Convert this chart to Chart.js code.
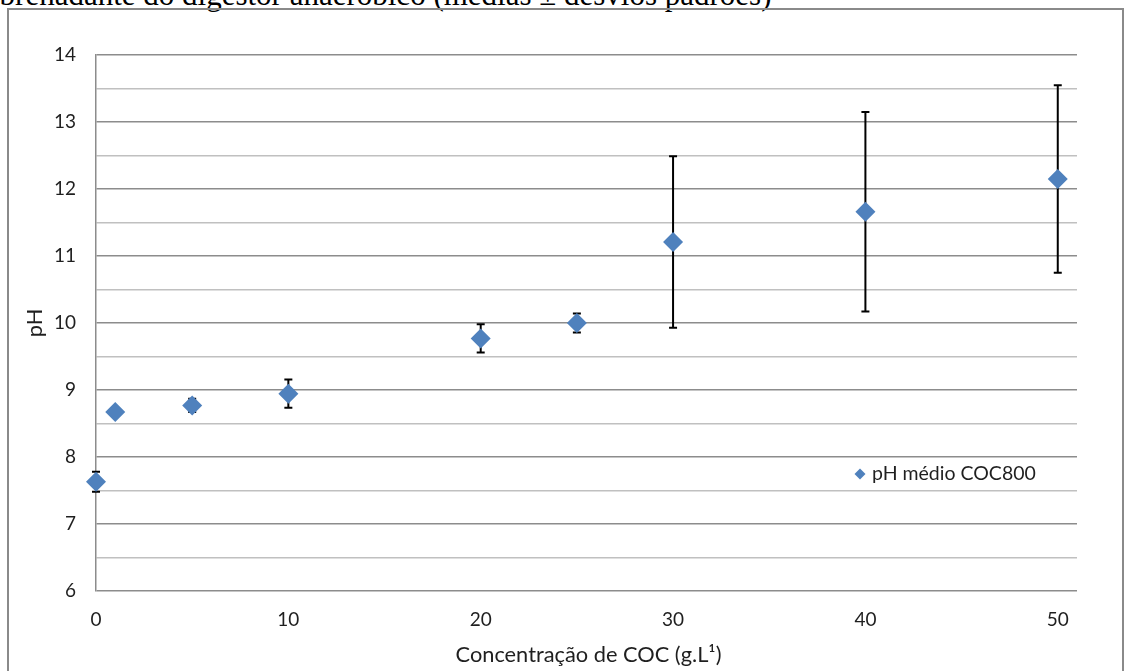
<!DOCTYPE html>
<html lang="pt">
<head>
<meta charset="utf-8">
<title>pH médio COC800</title>
<script src="https://cdn.jsdelivr.net/npm/chart.js@4.4.1/dist/chart.umd.min.js"></script>
<style>
  html, body { margin: 0; padding: 0; background: #fff; }
  #wrap { position: relative; width: 1127px; height: 671px; overflow: hidden; }
  #caption {
    position: absolute; left: -28px; top: -23px; white-space: nowrap; line-height: 1.15;
    font-family: "Liberation Serif", "DejaVu Serif", serif; font-size: 31px; color: #000;
  }
  #frame {
    position: absolute; left: 7px; top: 8px; width: 1117px; height: 680px;
    border: 2px solid #8a8a8a; border-bottom: none; box-sizing: border-box;
  }
  #chart { position: absolute; left: 0; top: 0; }
</style>
</head>
<body>
<div id="wrap">
  <div id="caption">sobrenadante do digestor anaeróbico (médias ± desvios padrões)</div>
  <div id="frame"></div>
  <canvas id="chart" width="1127" height="671"></canvas>
</div>
<script>
// Concentração de COC (g/L) e pH médio com desvio padrão
const concentrations = [0, 1, 5, 10, 20, 25, 30, 40, 50];
const phMeans = [7.63, 8.67, 8.77, 8.945, 9.77, 10.0, 11.21, 11.66, 12.15];
const phSD = [0.15, 0.03, 0.1, 0.21, 0.21, 0.14, 1.28, 1.49, 1.40];

const xTickValues = [0, 10, 20, 30, 40, 50];
const yTickValues = [6, 7, 8, 9, 10, 11, 12, 13, 14];

const seriesName = 'pH médio COC800';
const xTitle = 'Concentração de COC (g.L¹)';
const yTitle = 'pH';

const FONT = 'Lato, "Open Sans", sans-serif';
const TEXT = '#1f1f1f';
const BLUE = '#4f81bd';

// vertical error bars (mean ± sd) drawn under the markers
const errorBars = {
  id: 'errorBars',
  beforeDatasetsDraw(chart) {
    const { ctx, scales: { x, y } } = chart;
    ctx.save();
    ctx.strokeStyle = '#000';
    ctx.lineWidth = 2;
    concentrations.forEach((c, i) => {
      const px = x.getPixelForValue(c);
      const top = y.getPixelForValue(phMeans[i] + phSD[i]);
      const bot = y.getPixelForValue(phMeans[i] - phSD[i]);
      ctx.beginPath();
      ctx.moveTo(px, top); ctx.lineTo(px, bot);
      ctx.moveTo(px - 4, top); ctx.lineTo(px + 4, top);
      ctx.moveTo(px - 4, bot); ctx.lineTo(px + 4, bot);
      ctx.stroke();
    });
    ctx.restore();
  }
};

// axis titles and the in-plot legend
const decorations = {
  id: 'decorations',
  afterDraw(chart) {
    const { ctx, chartArea: a } = chart;
    ctx.save();
    ctx.fillStyle = TEXT;
    ctx.font = '21.8px ' + FONT;
    ctx.textAlign = 'center';
    ctx.textBaseline = 'middle';
    ctx.fillText(xTitle, (a.left + a.right) / 2 + 2, a.bottom + 64);
    ctx.save();
    ctx.translate(35, (a.top + a.bottom) / 2);
    ctx.rotate(-Math.PI / 2);
    ctx.fillText(yTitle, 0, 0);
    ctx.restore();

    // legend entry
    const lx = a.right - 217, ly = a.bottom - 117;
    ctx.fillStyle = BLUE;
    ctx.beginPath();
    ctx.moveTo(lx, ly - 5.5); ctx.lineTo(lx + 5.5, ly);
    ctx.lineTo(lx, ly + 5.5); ctx.lineTo(lx - 5.5, ly);
    ctx.closePath(); ctx.fill();
    ctx.fillStyle = TEXT;
    ctx.font = '19.5px ' + FONT;
    ctx.textAlign = 'left';
    ctx.fillText(seriesName, lx + 12, ly);
    ctx.restore();
  }
};

new Chart(document.getElementById('chart'), {
  type: 'scatter',
  data: {
    datasets: [{
      label: seriesName,
      data: concentrations.map((c, i) => ({ x: c, y: phMeans[i] })),
      pointStyle: 'rectRot',
      pointRadius: 10,
      pointHoverRadius: 10,
      pointBackgroundColor: BLUE,
      pointBorderColor: BLUE,
      pointBorderWidth: 0,
      showLine: false,
      clip: false
    }]
  },
  options: {
    responsive: false,
    animation: false,
    devicePixelRatio: 1,
    layout: { padding: { top: 55, right: 50, left: 0, bottom: 0 } },
    plugins: { legend: { display: false }, tooltip: { enabled: false } },
    scales: {
      x: {
        type: 'linear', min: 0, max: 51,
        afterBuildTicks(scale) { scale.ticks = xTickValues.map(v => ({ value: v })); },
        afterFit(scale) { scale.height = 80; },
        grid: { display: false, drawTicks: false },
        border: { display: false },
        ticks: { padding: 17, color: TEXT, font: { family: FONT, size: 19 } }
      },
      y: {
        type: 'linear', min: 6, max: 14,
        afterBuildTicks(scale) {
          const t = [];
          yTickValues.forEach((v, i) => {
            t.push({ value: v });
            if (i < yTickValues.length - 1) t.push({ value: v + 0.5 });
          });
          scale.ticks = t;
        },
        afterFit(scale) { scale.width = 96; },
        grid: {
          drawTicks: false,
          lineWidth: 1.5,
          color: ctx => (Number.isInteger(ctx.tick.value) ? '#8c8c8c' : '#c0c0c0')
        },
        border: { display: true, color: '#8c8c8c', width: 1.5 },
        ticks: {
          padding: 20, color: TEXT, font: { family: FONT, size: 19 },
          callback: v => (Number.isInteger(v) ? String(v) : '')
        }
      }
    }
  },
  plugins: [errorBars, decorations]
});
</script>
</body>
</html>
